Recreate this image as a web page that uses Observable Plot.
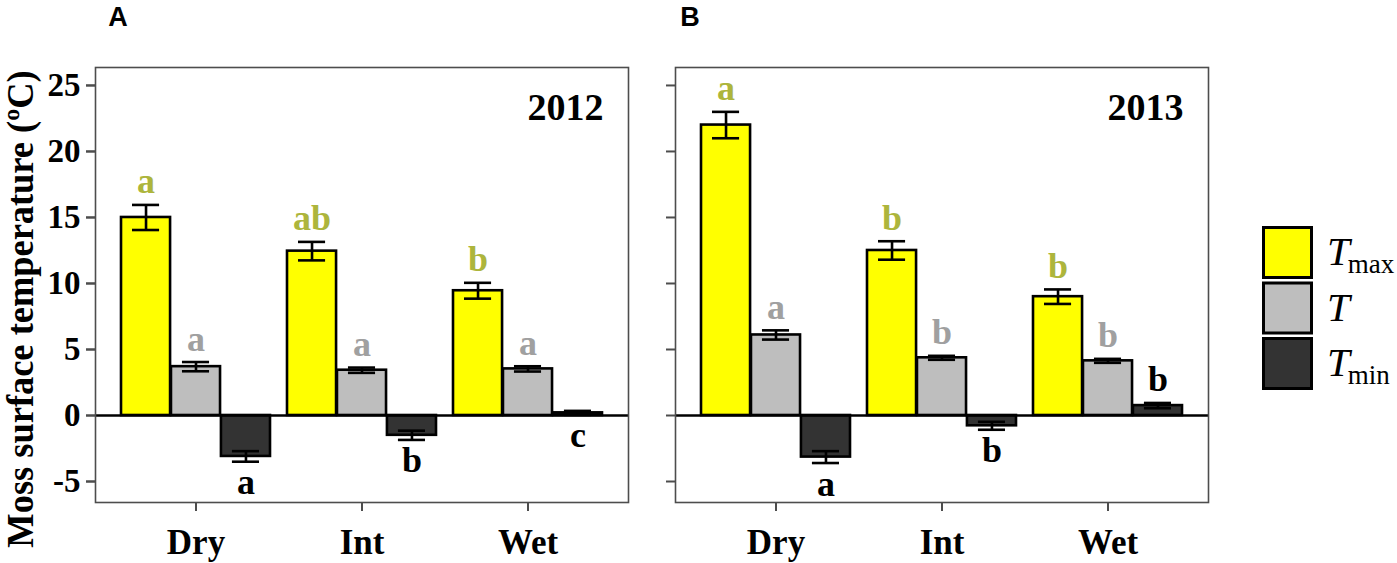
<!DOCTYPE html>
<html>
<head>
<meta charset="utf-8">
<script src="https://cdn.jsdelivr.net/npm/d3@7"></script>
<script src="https://cdn.jsdelivr.net/npm/@observablehq/plot@0.6"></script>
<style>
  body { margin: 0; background: #fff; }
  #wrap { position: relative; width: 1397px; height: 563px; overflow: hidden; font-family: "Liberation Serif", "Times New Roman", serif; color: #000; }
  #wrap > svg { position: absolute; left: 0; top: 0; }
  .panel { position: absolute; font-family: "Liberation Sans", Arial, sans-serif; font-weight: bold; font-size: 27px; line-height: 1; transform: translate(-50%, -50%); }
  #ylab { position: absolute; left: 21px; top: 309px; transform: translate(-50%, -50%) rotate(-90deg) scale(1.04, 1.08); white-space: nowrap; font-weight: bold; font-size: 35px; line-height: 1; }
</style>
</head>
<body>
<div id="wrap">
  <div class="panel" style="left:118px; top:17px;">A</div>
  <div class="panel" style="left:690px; top:17px;">B</div>
  <div id="ylab">Moss surface temperature (ºC)</div>
</div>
<script>
// ---------- data ----------
const years = ["2012", "2013"];
const sites = ["Dry", "Int", "Wet"];
const variables = ["Tmax", "T", "Tmin"];
const barColors = ["#FFFF00", "#BEBEBE", "#333333"];
const letterColors = ["#adb53c", "#a0a0a0", "#000000"];
const yTicks = [-5, 0, 5, 10, 15, 20, 25];

const tmax2012 = [15.0, 12.45, 9.45];
const tmax2012Err = [0.95, 0.7, 0.6];
const tmean2012 = [3.7, 3.43, 3.53];
const tmean2012Err = [0.35, 0.2, 0.2];
const tmin2012 = [-3.1, -1.5, 0.2];
const tmin2012Err = [0.4, 0.35, 0.15];

const tmax2013 = [22.0, 12.5, 9.0];
const tmax2013Err = [1.0, 0.7, 0.55];
const tmean2013 = [6.1, 4.37, 4.14];
const tmean2013Err = [0.35, 0.15, 0.15];
const tmin2013 = [-3.15, -0.78, 0.75];
const tmin2013Err = [0.45, 0.3, 0.2];

const tmax2012Letters = ["a", "ab", "b"];
const tmean2012Letters = ["a", "a", "a"];
const tmin2012Letters = ["a", "b", "c"];
const tmax2013Letters = ["a", "b", "b"];
const tmean2013Letters = ["a", "b", "b"];
const tmin2013Letters = ["a", "b", "b"];

const tmin2012LetterSide = ["below", "below", "below"];
const tmin2013LetterSide = ["below", "below", "above"];

// ---------- table ----------
const series = [
  ["2012", "Tmax", tmax2012, tmax2012Err, tmax2012Letters, null],
  ["2012", "T", tmean2012, tmean2012Err, tmean2012Letters, null],
  ["2012", "Tmin", tmin2012, tmin2012Err, tmin2012Letters, tmin2012LetterSide],
  ["2013", "Tmax", tmax2013, tmax2013Err, tmax2013Letters, null],
  ["2013", "T", tmean2013, tmean2013Err, tmean2013Letters, null],
  ["2013", "Tmin", tmin2013, tmin2013Err, tmin2013Letters, tmin2013LetterSide]
];
const rows = series.flatMap(([year, variable, means, errs, letters, sides]) =>
  sites.map((site, i) => ({
    year, variable, site,
    mean: means[i], err: errs[i], letter: letters[i],
    side: sides ? sides[i] : "above"
  })));

// ---------- layout ----------
const W = 1230, H = 563, mL = 95, mR = 22, mT = 67, mB = 61;
const facetW = 533;
const gap = (W - mL - mR) - 2 * facetW;
const fxStep = facetW + gap;
const xStep = facetW / 3.2;
const bw = xStep * 0.9;
const sub = bw / 3;
const capW = 28;
const lw = 2.6;
const font = "Liberation Serif";

const marks = [];
variables.forEach((v, k) => {
  const d = rows.filter(r => r.variable === v);
  const dx = (k - 1) * sub;
  const capInL = k * sub + (sub - capW) / 2;
  const capInR = (2 - k) * sub + (sub - capW) / 2;
  marks.push(
    Plot.barY(d, {fx: "year", x: "site", y: "mean", fill: barColors[k], stroke: "#000", strokeWidth: lw,
                  insetLeft: k * sub, insetRight: (2 - k) * sub}),
    Plot.ruleX(d, {fx: "year", x: "site", y1: r => r.mean - r.err, y2: r => r.mean + r.err, dx, stroke: "#000", strokeWidth: lw}),
    Plot.tickY(d, {fx: "year", x: "site", y: r => r.mean - r.err, insetLeft: capInL, insetRight: capInR, stroke: "#000", strokeWidth: lw}),
    Plot.tickY(d, {fx: "year", x: "site", y: r => r.mean + r.err, insetLeft: capInL, insetRight: capInR, stroke: "#000", strokeWidth: lw}),
    Plot.text(d.filter(r => r.side === "above"), {fx: "year", x: "site", y: r => r.mean + r.err, text: "letter", dx, dy: -23,
                  fill: letterColors[k], fontSize: 36, fontWeight: "bold", fontFamily: font}),
    Plot.text(d.filter(r => r.side === "below"), {fx: "year", x: "site", y: r => r.mean - r.err, text: "letter", dx, dy: 21,
                  fill: letterColors[k], fontSize: 36, fontWeight: "bold", fontFamily: font})
  );
});

const chart = Plot.plot({
  width: W, height: H,
  marginLeft: mL, marginRight: mR, marginTop: mT, marginBottom: mB,
  style: {fontFamily: font, color: "#000", background: "transparent", overflow: "visible"},
  fx: {domain: years, paddingInner: gap / fxStep, paddingOuter: 0, axis: null, label: null},
  x: {domain: sites, paddingInner: 0.1, paddingOuter: 0.15, label: null},
  y: {domain: [-6.59, 26.36], label: null},
  marks: [
    ...marks,
    Plot.ruleY([0], {stroke: "#000", strokeWidth: lw}),
    Plot.frame({stroke: "#4d4d4d", strokeWidth: 1.6}),
    Plot.axisY({facetAnchor: null, ticks: yTicks, tickSize: 9, tickFormat: () => "", stroke: "#4d4d4d", strokeWidth: 2, label: null}),
    Plot.axisY({ticks: yTicks, tickSize: 9, tickPadding: 6, stroke: "#4d4d4d", strokeWidth: 2, label: null,
                tickFormat: d => String(d),
                fontSize: 33, fontWeight: "bold", fontFamily: font, fill: "#000"}),
    Plot.axisX({tickSize: 9, tickPadding: 18, stroke: "#4d4d4d", strokeWidth: 2, label: null,
                fontSize: 35, fontWeight: "bold", fontFamily: font, fill: "#000"}),
    Plot.text(years, {fx: d => d, text: d => d, frameAnchor: "top-right", dx: -25, dy: 26, lineAnchor: "top",
                      fontSize: 38, fontWeight: "bold", fontFamily: font, fill: "#000"})
  ]
});
document.getElementById("wrap").appendChild(chart);

// ---------- legend ----------
const legendLabels = [["T", "max"], ["T", ""], ["T", "min"]];
const leg = d3.select("#wrap").append("svg")
  .attr("width", 160).attr("height", 200)
  .style("position", "absolute").style("left", "1240px").style("top", "215px");
variables.forEach((v, i) => {
  const g = leg.append("g").attr("transform", `translate(0, ${11 + i * 55.5})`);
  g.append("rect").attr("x", 23.5).attr("y", 1.5).attr("width", 48).attr("height", 50)
    .attr("fill", barColors[i]).attr("stroke", "#000").attr("stroke-width", 3);
  const t = g.append("text").attr("x", 87).attr("y", 39)
    .attr("font-family", font).attr("fill", "#000");
  t.append("tspan").attr("font-style", "italic").attr("font-size", 41).text(legendLabels[i][0]);
  if (legendLabels[i][1]) {
    t.append("tspan").attr("font-size", 27).attr("dx", -2).attr("dy", 8).text(legendLabels[i][1]);
  }
});
</script>
</body>
</html>
